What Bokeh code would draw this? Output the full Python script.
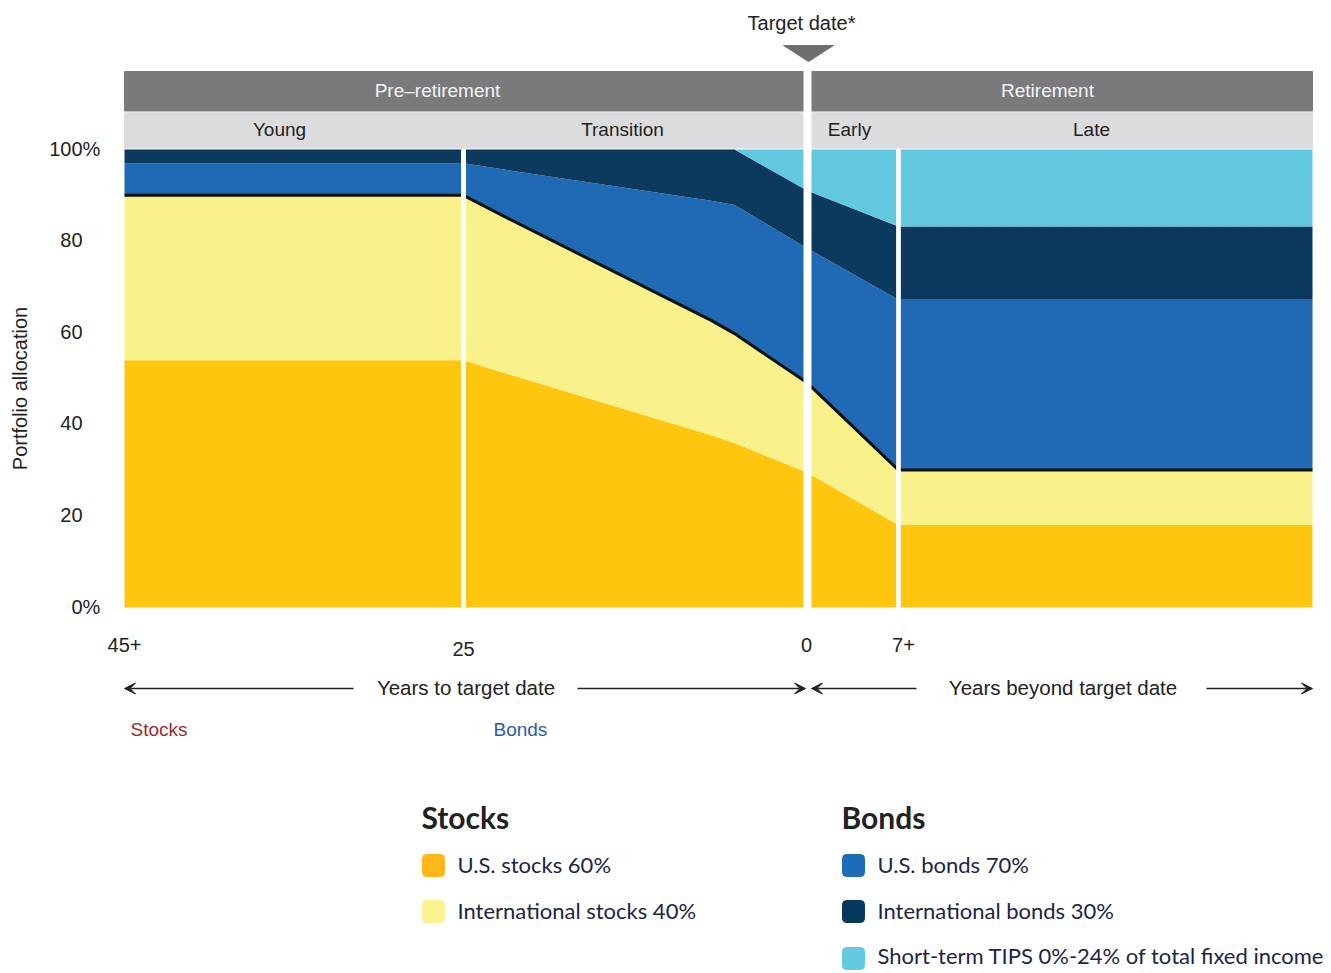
from bokeh.plotting import figure
from bokeh.models import Range1d, ColumnDataSource, Arrow, VeeHead
from bokeh.transform import stack
from bokeh.core.properties import value
from bokeh.embed import file_html
from bokeh.resources import INLINE
import numpy as np

# ---------------- data ----------------
years       = [-45, -25, -21.8, -7, -5.3, 0, 7, 30]
us_stocks   = [54, 54, 51, 37.6, 35.9, 29.4, 18, 18]
intl_stocks = [36, 36, 34, 25.1, 23.9, 19.6, 12, 12]
us_bonds    = [7, 7, 10.5, 26.1, 28.1, 29.4, 37.2, 37.2]
intl_bonds  = [3, 3, 4.5, 11.2, 12.1, 12.6, 16, 16]
tips        = [0, 0, 0, 0, 0, 9, 16.8, 16.8]

series_names = ["us_stocks", "intl_stocks", "us_bonds", "intl_bonds", "tips"]
series_colors = ["#FEC60F", "#F9F28A", "#1F69B5", "#0B3A5E", "#61C8DF"]

phase_years = [-45, -25, 0, 7, 30]           # phase boundaries (years)
x_tick_years = [-45, -25, 0, 7]
x_tick_labels = ["45+", "25", "0", "7+"]
y_ticks = [0, 20, 40, 60, 80, 100]
y_tick_labels = ["0", "20", "40", "60", "80", "100"]

phases_top = ["Pre\u2013retirement", "Retirement"]
phases_sub = ["Young", "Transition", "Early", "Late"]

legend_groups = ["Stocks", "Bonds"]
legend_labels = ["U.S. stocks 60%", "International stocks 40%",
                 "U.S. bonds 70%", "International bonds 30%",
                 "Short-term TIPS 0%-24% of total fixed income"]
legend_colors = ["#FDB719", "#FAF38F", "#1E6BB7", "#04385C", "#62CAE1"]

# ---------------- layout helpers ----------------
phase_pos = [0, 339, 683, 774, 1188]          # horizontal extent of each phase

def xmap(yr):
    return float(np.interp(yr, phase_years, phase_pos))

W, H = 1331, 973
PX_PER_PCT = 4.58
ZERO_PY = 607
LEFT_PX = 124

def X(px):
    return px - LEFT_PX

def Y(py):
    return (ZERO_PY - py) / PX_PER_PCT

CHART_FONT = "Liberation Sans"
LEG_FONT = "Lato"
TXT = "#222222"

p = figure(width=W, height=H,
           x_range=Range1d(X(0), X(W)), y_range=Range1d(Y(H), Y(0)),
           output_backend="svg", toolbar_location=None,
           x_axis_location=None, y_axis_location=None, min_border=0)
p.grid.visible = False
p.outline_line_color = None
p.background_fill_color = "white"
p.border_fill_color = "white"

src = ColumnDataSource(dict(x=[xmap(v) for v in years], us_stocks=us_stocks,
                            intl_stocks=intl_stocks, us_bonds=us_bonds,
                            intl_bonds=intl_bonds, tips=tips))
p.varea_stack(stackers=series_names, x="x", color=series_colors, source=src)
p.line(x="x", y=stack("us_stocks", "intl_stocks"), source=src,
       line_color="#111111", line_width=3)

# header bands
x0, x1 = xmap(phase_years[0]), xmap(phase_years[-1])
p.quad(left=[x0], right=[x1], bottom=[Y(110.5)], top=[Y(71)], color="#7A7A7C")
p.quad(left=[x0], right=[x1], bottom=[Y(147.5)], top=[Y(112.3)], color="#DCDCDE")

# separators
p.quad(left=[xmap(-25) - 2], right=[xmap(-25) + 2], bottom=[0], top=[100], color="white")
p.quad(left=[xmap(7) - 1.8], right=[xmap(7) + 1.8], bottom=[0], top=[100], color="white")
p.quad(left=[xmap(0) - 3.5], right=[xmap(0) + 3.5], bottom=[-0.5], top=[Y(70)], color="white")

# target date marker
p.patch(x=[X(783), X(833), X(808)], y=[Y(45), Y(45), Y(61)], color="#6E6E70")
p.text(x=[X(801)], y=[Y(22)], text=["Target date*"], text_align="center",
       text_baseline="middle", text_font=value(CHART_FONT), text_font_size="20px",
       text_color=TXT)

# header labels
p.text(x=[X(437), X(1047)], y=[Y(89.5)] * 2, text=phases_top, text_align="center",
       text_baseline="middle", text_font=value(CHART_FONT), text_font_size="19px",
       text_color="#F4F4F4")
p.text(x=[X(279), X(622), X(849), X(1091)], y=[Y(128.5)] * 4, text=phases_sub,
       text_align="center", text_baseline="middle", text_font=value(CHART_FONT),
       text_font_size="19px", text_color=TXT)

# y tick labels
p.text(x=[X(82)] * len(y_ticks), y=y_ticks, y_offset=-1, text=y_tick_labels,
       text_align="right", text_baseline="middle", text_font=value(CHART_FONT),
       text_font_size="20px", text_color=TXT)
p.text(x=[X(82)] * 2, y=[y_ticks[0], y_ticks[-1]], y_offset=-1, text=["%", "%"],
       text_align="left", text_baseline="middle", text_font=value(CHART_FONT),
       text_font_size="20px", text_color=TXT)
p.text(x=[X(19)], y=[Y(388)], text=["Portfolio allocation"], angle=np.pi / 2,
       text_align="center", text_baseline="middle", text_font=value(CHART_FONT),
       text_font_size="20px", text_color=TXT)

# x tick labels
p.text(x=[xmap(v) for v in x_tick_years], y=[Y(644.5), Y(648.5), Y(644.5), Y(644.5)],
       x_offset=[0, 0, -1, 5], text=x_tick_labels, text_align="center",
       text_baseline="middle", text_font=value(CHART_FONT), text_font_size="20px",
       text_color=TXT)

# direction arrows
for xs, xe in [(353, 124), (577, 805), (916, 811), (1206, 1312)]:
    p.add_layout(Arrow(end=VeeHead(size=11, fill_color="#222222", line_color="#222222",
                                   line_width=1),
                       x_start=X(xs), y_start=Y(688), x_end=X(xe), y_end=Y(688),
                       line_color="#222222", line_width=1.6))
p.text(x=[X(465.5), X(1062.5)], y=[Y(686.5)] * 2,
       text=["Years to target date", "Years beyond target date"], text_align="center",
       text_baseline="middle", text_font=value(CHART_FONT), text_font_size="20.5px",
       text_color=TXT)
p.text(x=[X(130), X(493)], y=[Y(728.5)] * 2, text=["Stocks", "Bonds"],
       text_align="left", text_baseline="middle", text_font=value(CHART_FONT),
       text_font_size="19px", text_color=["#A0292A", "#2A5EA7"])

# legend
p.text(x=[X(421), X(841)], y=[Y(816)] * 2, text=legend_groups, text_align="left",
       text_baseline="middle", text_font=value(LEG_FONT), text_font_size="30px",
       text_font_style="bold", text_color="#222222")
leg_px = [(422, 865), (422, 911), (842, 865), (842, 911), (842, 958)]
leg_text_py = [864, 910, 864, 910, 955]
p.quad(left=[X(a) for a, b in leg_px], right=[X(a + 22) for a, b in leg_px],
       bottom=[Y(b + 11) for a, b in leg_px], top=[Y(b - 11) for a, b in leg_px],
       color=legend_colors, border_radius=4)
p.text(x=[X(a + 35) for a, b in leg_px], y=[Y(t) for t in leg_text_py], text=legend_labels,
       text_align="left", text_baseline="middle", text_font=value(LEG_FONT),
       text_font_size="22px", text_color="#1B2548")

open("out.html", "w").write(file_html(p, INLINE))
